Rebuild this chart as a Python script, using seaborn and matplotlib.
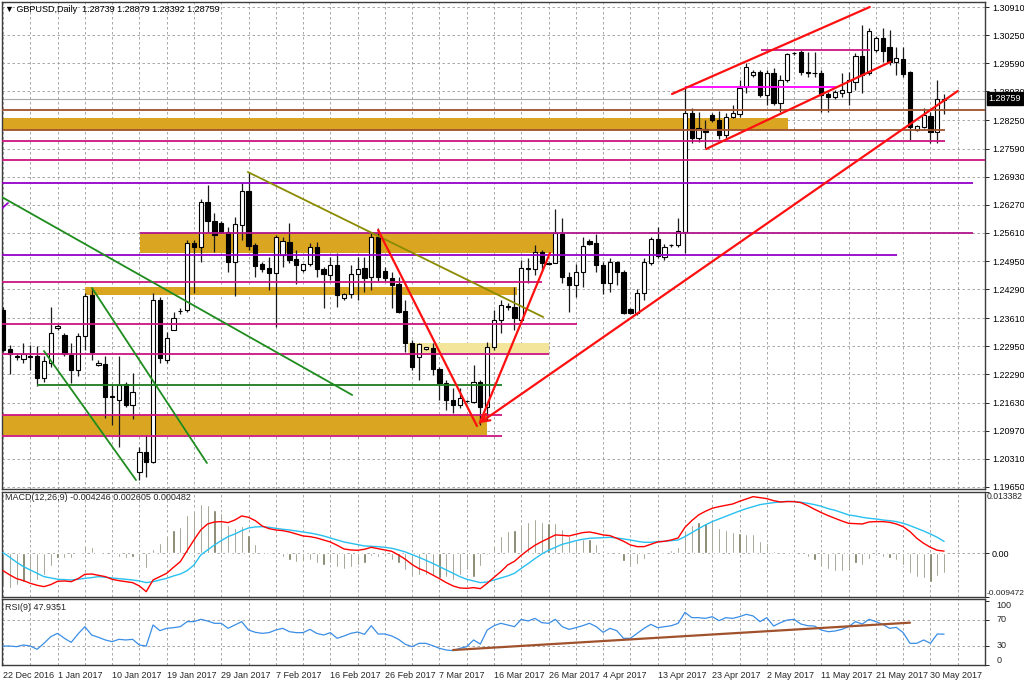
import numpy as np
import pandas as pd
import matplotlib
matplotlib.use("Agg")
import matplotlib.pyplot as plt
import matplotlib.transforms as mtransforms
import seaborn as sns

sns.set_style("white")
plt.rcParams['font.family'] = ['Liberation Sans', 'DejaVu Sans']

# ---------------- data ----------------
opens = [1.2380,1.2289,1.2272,1.2265,1.2272,1.2272,1.2221,1.2256,1.2338,1.2321,
         1.2275,1.2239,1.2319,1.2415,1.2251,1.2254,1.2178,1.2169,1.2207,1.2157,
         1.2000,1.2047,1.2024,1.2404,1.2263,1.2333,1.2378,1.2380,1.2537,1.2528,
         1.2634,1.2589,1.2584,1.2563,1.2493,1.2580,1.2659,1.2533,1.2488,1.2479,
         1.2467,1.2509,1.2540,1.2500,1.2474,1.2488,1.2528,1.2476,1.2462,1.2486,
         1.2408,1.2418,1.2465,1.2479,1.2458,1.2551,1.2472,1.2455,1.2441,1.2378,
         1.2303,1.2270,1.2289,1.2291,1.2242,1.2209,1.2169,1.2157,1.2167,1.2164,
         1.2211,1.2153,1.2293,1.2357,1.2390,1.2387,1.2357,1.2476,1.2476,1.2516,
         1.2490,1.2490,1.2558,1.2458,1.2439,1.2469,1.2542,1.2537,1.2486,1.2444,
         1.2493,1.2469,1.2382,1.2373,1.2420,1.2490,1.2547,1.2504,1.2532,1.2533,
         1.2563,1.2842,1.2784,1.2805,1.2838,1.2826,1.2791,1.2833,1.2840,1.2903,
         1.2932,1.2939,1.2885,1.2936,1.2866,1.2920,1.2983,1.2985,1.2939,1.2936,
         1.2936,1.2887,1.2880,1.2889,1.2892,1.2915,1.2976,1.2936,1.2990,1.3018,
         1.2997,1.2962,1.2969,1.2939,1.2802,1.2809,1.2835,1.2798,1.28739]
highs = [1.2387,1.2298,1.2277,1.2303,1.2298,1.2296,1.2272,1.2387,1.2347,1.2326,
         1.2303,1.2326,1.2420,1.2432,1.2263,1.2272,1.2204,1.2272,1.2211,1.2232,
         1.2059,1.2087,1.2420,1.2411,1.2329,1.2376,1.2385,1.2544,1.2544,1.2641,
         1.2673,1.2608,1.2589,1.2575,1.2598,1.2678,1.2704,1.2537,1.2493,1.2504,
         1.2556,1.2551,1.2584,1.2521,1.2488,1.2537,1.2540,1.2481,1.2504,1.2514,
         1.2420,1.2486,1.2504,1.2504,1.2561,1.2573,1.2481,1.2469,1.2458,1.2404,
         1.2310,1.2303,1.2293,1.2303,1.2247,1.2216,1.2197,1.2197,1.2169,1.2251,
         1.2216,1.2305,1.2380,1.2404,1.2397,1.2434,1.2497,1.2502,1.2533,1.2521,
         1.2493,1.2617,1.2596,1.2469,1.2488,1.2551,1.2547,1.2558,1.2493,1.2502,
         1.2495,1.2474,1.2385,1.2429,1.2502,1.2551,1.2575,1.2535,1.2535,1.2596,
         1.2901,1.2854,1.2845,1.2826,1.2842,1.2847,1.2842,1.2861,1.2920,1.2960,
         1.2943,1.2943,1.2943,1.2948,1.2932,1.2983,1.2985,1.2990,1.2985,1.2985,
         1.2943,1.2892,1.2896,1.2936,1.2939,1.2983,1.3049,1.3042,1.3023,1.3042,
         1.3037,1.2997,1.2997,1.2941,1.2814,1.2854,1.2845,1.2920,1.28879]
lows = [1.2282,1.2230,1.2263,1.2256,1.2239,1.2202,1.2211,1.2247,1.2333,1.2272,
        1.2209,1.2225,1.2286,1.2263,1.2249,1.2127,1.2110,1.2059,1.2153,1.2124,
        1.1981,1.1988,1.2021,1.2256,1.2256,1.2333,1.2371,1.2376,1.2420,1.2493,
        1.2563,1.2516,1.2561,1.2469,1.2413,1.2544,1.2521,1.2458,1.2469,1.2427,
        1.2340,1.2481,1.2490,1.2441,1.2469,1.2483,1.2458,1.2385,1.2451,1.2387,
        1.2404,1.2408,1.2404,1.2422,1.2427,1.2448,1.2448,1.2385,1.2373,1.2282,
        1.2239,1.2216,1.2286,1.2228,1.2169,1.2146,1.2139,1.2150,1.2164,1.2162,
        1.2110,1.2122,1.2286,1.2326,1.2380,1.2333,1.2350,1.2444,1.2462,1.2474,
        1.2486,1.2490,1.2444,1.2376,1.2411,1.2434,1.2533,1.2469,1.2418,1.2422,
        1.2439,1.2371,1.2371,1.2368,1.2404,1.2486,1.2502,1.2497,1.2528,1.2528,
        1.2514,1.2772,1.2774,1.2760,1.2821,1.2781,1.2784,1.2831,1.2833,1.2889,
        1.2927,1.2880,1.2861,1.2861,1.2845,1.2915,1.2978,1.2931,1.2927,1.2927,
        1.2845,1.2845,1.2875,1.2880,1.2861,1.2896,1.2889,1.2932,1.2985,1.2962,
        1.2955,1.2932,1.2927,1.2779,1.2800,1.2807,1.2772,1.2772,1.28392]
closes = [1.2286,1.2277,1.2270,1.2277,1.2271,1.2221,1.2261,1.2326,1.2343,1.2277,
          1.2239,1.2319,1.2413,1.2282,1.2256,1.2176,1.2176,1.2204,1.2157,1.2188,
          1.2047,1.2024,1.2404,1.2268,1.2314,1.2361,1.2377,1.2537,1.2528,1.2634,
          1.2589,1.2556,1.2563,1.2493,1.2582,1.2659,1.2530,1.2483,1.2476,1.2467,
          1.2551,1.2542,1.2498,1.2486,1.2488,1.2528,1.2476,1.2465,1.2486,1.2415,
          1.2418,1.2465,1.2476,1.2455,1.2551,1.2458,1.2455,1.2439,1.2376,1.2303,
          1.2247,1.2300,1.2293,1.2242,1.2209,1.2169,1.2157,1.2174,1.2166,1.2211,
          1.2153,1.2293,1.2357,1.2392,1.2387,1.2361,1.2479,1.2479,1.2516,1.2490,
          1.2489,1.2561,1.2458,1.2439,1.2469,1.2530,1.2535,1.2486,1.2444,1.2493,
          1.2469,1.2373,1.2373,1.2420,1.2493,1.2547,1.2507,1.2528,1.2533,1.2565,
          1.2842,1.2784,1.2807,1.2798,1.2826,1.2791,1.2833,1.2842,1.2901,1.2950,
          1.2939,1.2885,1.2936,1.2866,1.2920,1.2981,1.2982,1.2939,1.2937,1.2935,
          1.2885,1.2880,1.2892,1.2896,1.2920,1.2976,1.2932,1.3035,1.3018,1.2988,
          1.2962,1.2971,1.2934,1.2809,1.2812,1.2838,1.2798,1.2874,1.28759]

# MACD(12,26,9) readings, in units of 1e-4
macd_main_e4 = [-38.0,-47.5,-55.5,-59.9,-65.7,-70.1,-73.0,-68.6,-61.3,-60.6,
                -62.1,-55.5,-46.0,-45.3,-48.2,-51.1,-56.9,-59.9,-62.1,-64.2,
                -71.5,-84.0,-58.4,-51.1,-43.8,-30.7,-18.3,5.8,29.2,51.1,
                64.2,68.6,69.4,67.2,73.0,81.8,78.8,71.5,59.9,54.0,
                51.1,49.6,46.7,42.3,38.0,36.5,33.6,29.2,24.8,17.5,
                9.5,7.3,6.6,8.8,13.1,10.2,7.3,4.4,-3.7,-13.1,
                -24.8,-33.6,-39.4,-47.5,-55.5,-64.2,-71.5,-75.9,-76.7,-75.2,
                -77.4,-65.7,-52.6,-40.2,-25.6,-17.5,-4.4,7.3,17.5,25.6,
                32.9,40.2,39.4,38.0,41.6,45.3,46.7,43.8,40.2,38.7,
                32.9,26.3,18.3,14.6,14.6,19.7,24.8,26.3,29.2,33.6,
                56.9,71.5,84.0,92.0,98.6,102.2,105.1,108.0,113.9,119.0,
                124.1,121.9,119.7,115.3,112.4,113.2,113.2,111.0,104.4,96.4,
                89.1,82.5,76.7,70.8,65.7,65.0,64.2,68.6,69.4,69.4,
                67.9,64.2,58.4,47.5,32.9,21.9,13.1,6.6,4.82]
macd_signal_e4 = [1.5,-8.8,-19.7,-29.2,-36.5,-43.8,-51.1,-54.0,-56.9,-57.7,
                  -58.4,-56.9,-54.8,-53.3,-51.1,-52.6,-54.0,-55.5,-56.9,-58.4,
                  -60.6,-64.2,-62.1,-58.4,-54.8,-49.6,-45.3,-38.0,-25.6,-3.7,
                  7.3,18.3,27.7,36.5,42.3,49.6,55.5,57.7,58.4,56.9,
                  54.8,52.6,51.1,48.9,46.7,44.5,41.6,38.0,33.6,29.2,
                  24.8,21.9,19.0,16.1,15.3,14.6,13.1,11.0,7.3,2.9,
                  -2.9,-8.8,-15.3,-21.9,-29.2,-36.5,-43.8,-51.1,-56.9,-60.6,
                  -64.2,-62.8,-58.4,-54.0,-49.6,-43.8,-32.9,-22.6,-11.7,-1.5,
                  6.6,13.1,19.7,23.4,27.7,30.7,32.9,33.6,34.3,35.0,
                  33.6,31.4,29.2,26.3,24.1,24.1,25.6,26.3,27.7,29.2,
                  36.5,45.3,54.0,62.1,69.4,75.2,81.0,86.9,92.7,97.8,
                  102.2,106.6,108.8,111.0,112.4,113.9,113.2,111.7,109.5,106.6,
                  102.9,97.8,94.2,89.1,84.0,81.8,78.8,76.7,75.2,73.0,
                  71.5,69.4,65.7,60.6,54.8,48.9,42.3,35.0,26.05]
macd_hist_e4 = [-73.0,-76.7,-69.4,-62.1,-62.1,-58.4,-47.5,-27.7,-11.0,-11.0,
                -11.0,-1.5,18.3,14.6,3.7,-1.5,-1.5,-8.8,-11.0,-7.3,
                -16.1,-32.9,8.8,21.9,40.2,51.1,58.4,84.0,94.9,108.0,
                105.9,94.9,87.6,62.1,54.8,59.9,40.2,20.4,2.2,-1.5,
                -1.5,-7.3,-14.6,-18.3,-18.3,-14.6,-21.9,-25.6,-21.9,-30.7,
                -35.0,-29.2,-25.6,-20.4,-5.8,-8.8,-7.3,-14.6,-21.9,-36.5,
                -51.1,-47.5,-47.5,-47.5,-54.8,-52.6,-58.4,-47.5,-36.5,-51.1,
                -27.7,-3.7,18.3,38.0,49.6,51.1,64.2,69.4,74.5,69.4,
                65.7,67.2,52.6,38.0,29.2,30.7,30.7,20.4,7.3,3.7,
                0.3,-16.1,-30.7,-23.4,-13.1,-1.5,-1.5,1.5,7.3,14.6,
                51.1,62.1,69.4,67.2,74.5,56.2,51.1,47.5,45.3,42.3,
                42.3,27.7,23.4,5.8,1.5,3.7,-1.5,-1.5,-8.8,-14.6,
                -30.7,-35.0,-38.0,-38.0,-38.0,-21.9,-25.6,-13.1,-5.8,-8.8,
                -11.0,-14.6,-25.6,-42.3,-52.6,-54.8,-62.1,-49.6,-42.46]

rsi_values = [29.5,29.5,28.5,31.1,29.5,24.4,33.7,44.0,49.2,41.5,
              35.2,48.2,59.6,46.6,43.0,38.9,36.3,39.9,38.9,39.9,
              31.1,29.5,62.2,53.4,57.0,58.0,59.6,67.4,67.4,71.0,
              68.4,64.8,64.8,57.0,62.2,67.4,54.4,50.8,49.2,50.3,
              54.4,57.0,51.8,50.3,50.3,55.4,49.2,46.6,50.3,41.5,
              45.1,49.2,51.3,47.7,61.1,48.2,48.2,45.1,39.9,32.1,
              28.5,33.7,33.7,30.1,25.9,23.3,22.3,25.9,28.5,38.9,
              32.6,54.4,61.1,64.8,62.2,59.6,71.0,68.4,72.5,65.8,
              64.8,71.0,59.6,55.4,58.0,61.1,64.8,59.6,50.8,57.0,
              53.4,41.5,41.5,49.2,57.0,63.2,58.0,59.6,61.1,64.8,
              81.9,73.6,73.6,72.5,75.1,68.9,73.6,72.5,75.1,78.8,
              76.2,67.4,73.6,60.6,65.8,69.9,71.0,63.7,61.1,60.6,
              54.4,51.8,52.8,55.4,59.6,67.4,63.7,71.0,67.4,63.2,
              57.0,58.5,50.3,33.7,33.7,38.9,33.7,48.2,47.9351]

date_labels = ["22 Dec 2016", "1 Jan 2017", "10 Jan 2017", "19 Jan 2017", "29 Jan 2017",
               "7 Feb 2017", "16 Feb 2017", "26 Feb 2017", "7 Mar 2017", "16 Mar 2017",
               "26 Mar 2017", "4 Apr 2017", "13 Apr 2017", "23 Apr 2017", "2 May 2017",
               "11 May 2017", "21 May 2017", "30 May 2017"]
price_ticks = [1.30910, 1.30250, 1.29590, 1.28930, 1.28250, 1.27590, 1.26930, 1.26270,
               1.25610, 1.24950, 1.24290, 1.23610, 1.22950, 1.22290, 1.21630, 1.20970,
               1.20310, 1.19650]
macd_tick_values = [0.013382, 0.0, -0.009472]
rsi_levels = [100, 70, 30, 0]
last_price = 1.28759

# drawn objects (price / bar coordinates)
zones = [
    (1.28024, 1.28306, -0.2, 115.1, '#DAA520'),
    (1.25139, 1.25608, 20.1, 80.6, '#DAA520'),
    (1.24153, 1.24341, 12.0, 75.4, '#DAA520'),
    (1.22793, 1.23027, 59.4, 80.1, '#F3E59A'),
    (1.20869, 1.21338, -0.2, 71.0, '#DAA520'),
]
hlines = [
    (1.28494, -0.2, 144.0, '#A0522D', 1.3),
    (1.28013, 0.0, 138.1, '#A0522D', 1.3),
    (1.27766, -0.2, 138.1, '#CC1480', 1.3),
    (1.27320, -0.2, 144.0, '#CC1480', 1.3),
    (1.26781, -0.2, 142.2, '#9400C8', 1.3),
    (1.25608, 20.1, 142.2, '#B0148C', 1.3),
    (1.25092, -0.2, 131.1, '#9400C8', 1.3),
    (1.24470, -0.2, 79.0, '#CC1480', 1.3),
    (1.23473, -0.2, 84.2, '#CC1480', 1.3),
    (1.22758, -0.2, 80.1, '#CC1480', 1.3),
    (1.22042, 5.0, 73.2, '#1E7A1E', 1.3),
    (1.21350, -0.2, 73.2, '#CC1480', 1.3),
    (1.20846, -0.2, 73.2, '#CC1480', 1.3),
    (1.29901, 111.1, 127.1, '#CC1480', 1.3),
    (1.29033, 100.0, 122.1, '#FF00FF', 1.3),
]
trendlines = [
    ((-0.44, 1.26476), (51.2, 1.21808), '#1E8C1E', 1.3),
    ((13.05, 1.24318), (29.9, 1.20212), '#1E8C1E', 1.3),
    ((6.0, 1.22840), (19.5, 1.19813), '#1E8C1E', 1.3),
    ((35.9, 1.27039), (79.2, 1.23637), '#8B8B00', 1.3),
    ((-0.44, 1.26148), (0.73, 1.26312), '#9400C8', 1.3),
    ((55.0, 1.25678), (69.5, 1.21080), '#FF1010', 1.6),
    ((69.9, 1.21151), (80.2, 1.25139), '#FF1010', 1.6),
    ((98.1, 1.28869), (127.1, 1.30910), '#FF1010', 1.6),
    ((103.1, 1.27579), (130.1, 1.29620), '#FF1010', 1.6),
]
arrow_line = ((140.0, 1.28939), (69.9, 1.21151))
rsi_trend = ((66.0, 23.3), (133.0, 65.8))

# ---------------- figure ----------------
W, H = 1024, 683
FS = 6.5
fig = plt.figure(figsize=(W / 100, H / 100), dpi=100)
fig.patch.set_facecolor('white')

def rect(top, bottom):
    return [2 / W, 1 - bottom / H, 983 / W, (bottom - top) / H]

ax = fig.add_axes(rect(2, 489))
ax2 = fig.add_axes(rect(492, 597))
ax3 = fig.add_axes(rect(599, 665))

n = len(opens)
bars = np.arange(n)
xlim = (-0.15, 144.0)
grid_kw = dict(color='#9A9A9A', lw=0.6, ls=(0, (3, 3)), zorder=0)

for a in (ax, ax2, ax3):
    a.set_xlim(*xlim)
    a.set_facecolor('white')
    for s in a.spines.values():
        s.set_color('#3C3C3C')
        s.set_linewidth(1.0)
    a.set_xticks([])
    for b in range(0, 145, 4):
        a.axvline(b, **grid_kw)
    a.yaxis.tick_right()
    a.tick_params(axis='y', length=3, width=0.6, labelsize=FS, pad=2, colors='black')

# main panel
ax.set_ylim(1.196023, 1.310273)
for p in price_ticks:
    ax.axhline(p, **grid_kw)
ax.set_yticks(price_ticks)
ax.set_yticklabels([f"{p:.5f}" for p in price_ticks])

for (lo, hi, b0, b1, col) in zones:
    ax.fill_between([b0, b1], lo, hi, color=col, lw=0, zorder=1)

o = np.array(opens); h = np.array(highs); l = np.array(lows); c = np.array(closes)
ax.vlines(bars, l, h, color='#1A1A1A', lw=0.9, zorder=3)
body_lo = np.minimum(o, c)
body_h = np.maximum(np.abs(c - o), 0.00004)
face = np.where(c >= o, 'white', 'black')
ax.bar(bars, body_h, bottom=body_lo, width=0.62, color=face, edgecolor='black',
       linewidth=0.8, zorder=4)

for (p, b0, b1, col, lw) in hlines:
    ax.plot([b0, b1], [p, p], color=col, lw=lw, zorder=5, solid_capstyle='butt')
ax.axhline(last_price, color='#A8A8A8', lw=0.8, zorder=2)
for (p0, p1, col, lw) in trendlines:
    ax.plot([p0[0], p1[0]], [p0[1], p1[1]], color=col, lw=lw, zorder=6)
ax.annotate('', xy=arrow_line[1], xytext=arrow_line[0],
            arrowprops=dict(arrowstyle='->', color='#FF1010', lw=1.6, mutation_scale=14,
                            shrinkA=0, shrinkB=0), zorder=6)

ax.annotate(f"{last_price:.5f}", xy=(1.0, last_price), xycoords=('axes fraction', 'data'),
            xytext=(2.5, 0), textcoords='offset points', va='center', ha='left',
            fontsize=FS, color='white',
            bbox=dict(boxstyle='square,pad=0.2', fc='black', ec='black'), annotation_clip=False)

fig.text(5 / W, 1 - 9 / H, "\u25BC GBPUSD,Daily  1.28739 1.28879 1.28392 1.28759",
         fontsize=FS, va='center', ha='left', color='black')

# MACD panel
ax2.set_ylim(-0.00957, 0.013425)
ax2.axhline(0, **grid_kw)
mm = np.array(macd_main_e4) * 1e-4
ms = np.array(macd_signal_e4) * 1e-4
mh = np.array(macd_hist_e4) * 1e-4
ax2.bar(bars, mh, width=0.32, color='#74745A', zorder=2)
sns.lineplot(x=bars, y=ms, ax=ax2, color='#28C0F0', lw=1.0, zorder=3)
sns.lineplot(x=bars, y=mm, ax=ax2, color='#FF0000', lw=1.0, zorder=4)
ax2.set_yticks(macd_tick_values)
ax2.set_yticklabels(['', '0.00', ''])
tr2 = mtransforms.blended_transform_factory(ax2.transAxes, ax2.transData)
ax2.text(1.002, 0.013382, "0.013382", transform=tr2, fontsize=6.2, va='top', ha='left')
ax2.text(1.002, -0.009472, "-0.009472", transform=tr2, fontsize=6.0, va='bottom', ha='left')
ax2.set_ylabel('')
fig.text(5 / W, 1 - 498 / H, "MACD(12,26,9) -0.004246 0.002605 0.000482",
         fontsize=FS, va='center', ha='left')

# RSI panel
ax3.set_ylim(0, 102.6)
for lv in (70, 30):
    ax3.axhline(lv, **grid_kw)
sns.lineplot(x=bars, y=rsi_values, ax=ax3, color='#3A8EE6', lw=0.9, zorder=3)
ax3.plot([rsi_trend[0][0], rsi_trend[1][0]], [rsi_trend[0][1], rsi_trend[1][1]],
         color='#A0522D', lw=1.6, zorder=4)
ax3.set_yticks(rsi_levels)
ax3.set_yticklabels([])
tr3 = mtransforms.blended_transform_factory(ax3.transAxes, ax3.transData)
for lv in rsi_levels:
    va = 'top' if lv == 100 else ('bottom' if lv == 0 else 'center')
    ax3.text(1.012, lv, str(lv), transform=tr3, fontsize=FS, va=va, ha='left')
ax3.set_ylabel('')
fig.text(5 / W, 1 - 607 / H, "RSI(9) 47.9351", fontsize=FS, va='center', ha='left')

# date labels
trd = mtransforms.blended_transform_factory(ax3.transData, fig.transFigure)
for k, lab in enumerate(date_labels):
    ax3.text(k * 8, 1 - 675 / H, lab, transform=trd, fontsize=FS, va='center', ha='left',
             clip_on=False)

for a in (ax, ax2, ax3):
    a.set_xlabel('')
    legend = a.get_legend()
    if legend:
        legend.remove()

fig.savefig("out.png", dpi=100)
